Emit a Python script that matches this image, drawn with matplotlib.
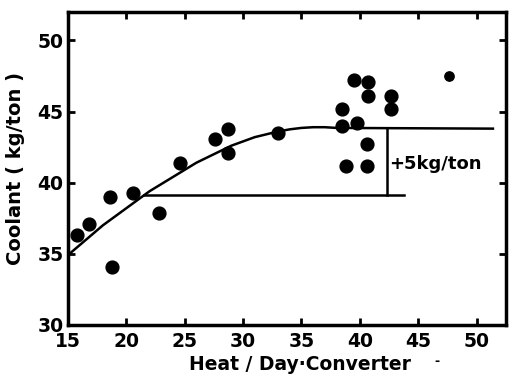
import matplotlib
matplotlib.use("Agg")
import matplotlib.pyplot as plt

# measured points
heat = [15.8, 16.8, 18.6, 18.8, 20.6, 22.8, 24.6, 27.6, 28.7, 28.7, 33.0,
        39.5, 40.7, 40.7, 42.7, 42.7, 38.5, 38.5, 39.8, 40.6, 38.8, 40.6]
coolant = [36.3, 37.1, 39.0, 34.1, 39.3, 37.9, 41.4, 43.1, 43.75, 42.1, 43.5,
           47.2, 47.1, 46.1, 46.1, 45.2, 45.2, 44.0, 44.2, 42.7, 41.2, 41.2]
odd_x, odd_y = [47.6], [47.5]

# fitted curve
curve_x = [15, 16, 17, 18, 19, 20, 21, 22, 23, 24, 25, 26, 27, 28, 29, 30,
           31, 32, 33, 34, 35, 36, 37, 38, 51.4]
curve_y = [34.9, 35.6, 36.3, 37.0, 37.6, 38.2, 38.8, 39.4, 39.9, 40.4, 40.9,
           41.4, 41.8, 42.2, 42.6, 42.9, 43.2, 43.4, 43.6, 43.75, 43.85, 43.9,
           43.9, 43.85, 43.8]

low_level, high_level = 39.1, 43.8
low_x = [21.5, 43.8]
bar_x = 42.3

fig = plt.figure(figsize=(5.14, 3.76), dpi=100)
ax = fig.add_axes([0.132, 0.136, 0.852, 0.832])

ax.plot(curve_x, curve_y, color='black', lw=1.8)
ax.plot(low_x, [low_level, low_level], color='black', lw=1.8)
ax.plot([bar_x, bar_x], [low_level, high_level], color='black', lw=1.8)
ax.scatter(heat, coolant, s=85, color='black', zorder=3)
ax.scatter(odd_x, odd_y, s=45, color='black', zorder=3)
ax.text(42.55, 41.3, '+5kg/ton', fontsize=13, fontweight='bold', va='center', ha='left')

ax.set_xlim(15, 52.5)
ax.set_ylim(30, 52)
ax.set_xticks([15, 20, 25, 30, 35, 40, 45, 50])
ax.set_yticks([30, 35, 40, 45, 50])
ax.tick_params(direction='in', top=True, right=True, length=5, width=2, labelsize=13.5)
for t in ax.get_xticklabels() + ax.get_yticklabels():
    t.set_fontweight('bold')
ax.tick_params(axis='x', pad=5)
ax.tick_params(axis='y', pad=3)
for s in ax.spines.values():
    s.set_linewidth(2.5)

ax.set_xlabel('Heat / Day·Converter', fontsize=13.5, fontweight='bold', va='center')
ax.xaxis.set_label_coords(0.53, -0.126)
ax.set_ylabel('Coolant ( kg/ton )', fontsize=14, fontweight='bold', va='center')
ax.yaxis.set_label_coords(-0.12, 0.5)
fig.text(0.845, 0.03, '-', fontsize=9, fontweight='bold')

fig.savefig('out.png', dpi=100)
